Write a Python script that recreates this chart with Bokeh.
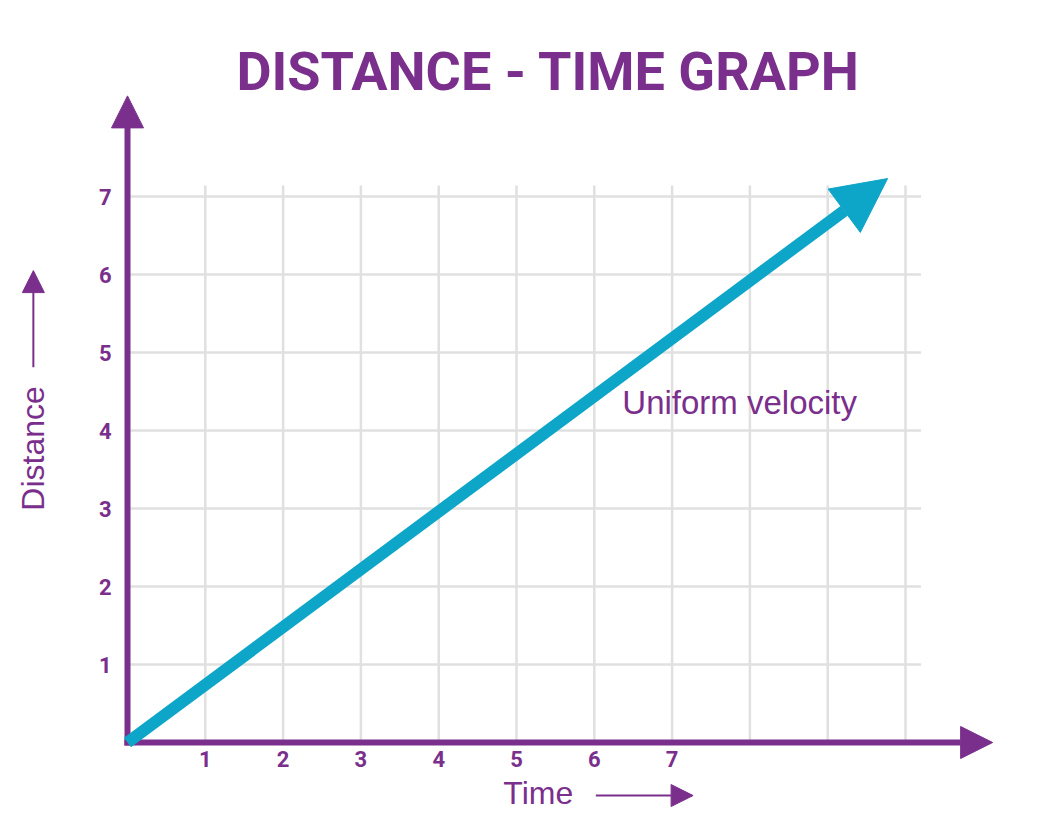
from bokeh.plotting import figure
from bokeh.models import ColumnDataSource, FixedTicker, Arrow, NormalHead, Range1d
from bokeh.core.properties import value
from bokeh.embed import file_html
from bokeh.resources import INLINE

# ---- data ----
time_ticks = [1, 2, 3, 4, 5, 6, 7]
distance_ticks = [1, 2, 3, 4, 5, 6, 7]
grid_x = [1, 2, 3, 4, 5, 6, 7, 8, 9, 10]
grid_y = [1, 2, 3, 4, 5, 6, 7]
grid_x_top = 7.14
grid_y_right = 10.2
line_time = [0.0, 9.77]
line_distance = [0.0, 7.23]
title_text = "DISTANCE - TIME GRAPH"
annotation_text = "Uniform velocity"
x_name = "Time"
y_name = "Distance"

PURPLE = "#7b2f8c"
BLUE = "#0ea6c8"
GRID = "#e0e0e0"

W, H = 1046, 812
SX, SY = 77.8, 78.0
OX, OY = 127, 742  # origin in figure pixels

x_start = -OX / SX
x_end = x_start + W / SX
y_start = -(H - OY) / SY
y_end = OY / SY

p = figure(width=W, height=H, output_backend="svg", toolbar_location=None,
           x_range=Range1d(x_start, x_end), y_range=Range1d(y_start, y_end),
           min_border=0, outline_line_color=None)
p.background_fill_color = "white"
p.xgrid.visible = False
p.ygrid.visible = False

# axes at origin (tick labels only)
for ax, ticks in ((p.xaxis[0], time_ticks), (p.yaxis[0], distance_ticks)):
    ax.fixed_location = 0
    ax.ticker = FixedTicker(ticks=ticks)
    ax.axis_line_color = None
    ax.major_tick_line_color = None
    ax.minor_tick_line_color = None
    ax.major_label_text_font = "Roboto"
    ax.major_label_text_font_style = "bold"
    ax.major_label_text_font_size = "22px"
    ax.major_label_text_color = PURPLE
p.xaxis[0].major_label_standoff = 2
p.yaxis[0].major_label_standoff = 10

# grid lines (bounded)
p.segment(x0=grid_x, y0=[0] * len(grid_x), x1=grid_x, y1=[grid_x_top] * len(grid_x),
          line_color=GRID, line_width=2.5)
p.segment(x0=[0] * len(grid_y), y0=grid_y, x1=[grid_y_right] * len(grid_y), y1=grid_y,
          line_color=GRID, line_width=2.5)

# axis arrows
p.add_layout(Arrow(x_start=-0.04, y_start=0, x_end=11.12, y_end=0,
                   line_color=PURPLE, line_width=6,
                   end=NormalHead(size=32, fill_color=PURPLE, line_color=PURPLE)))
p.add_layout(Arrow(x_start=0, y_start=-0.04, x_end=0, y_end=8.29,
                   line_color=PURPLE, line_width=6,
                   end=NormalHead(size=32, fill_color=PURPLE, line_color=PURPLE)))

# main distance-time line
src = ColumnDataSource(dict(x0=[line_time[0]], y0=[line_distance[0]],
                            x1=[line_time[1]], y1=[line_distance[1]]))
p.add_layout(Arrow(source=src, x_start="x0", y_start="y0", x_end="x1", y_end="y1",
                   line_color=BLUE, line_width=12,
                   end=NormalHead(size=54, fill_color=BLUE, line_color=BLUE)))

# title
p.text(x=[5.41], y=[8.60], text=[title_text], text_font=value("Roboto"),
       text_font_style="bold", text_font_size="54px", text_color=PURPLE,
       text_baseline="middle", text_align="center")

# annotation text
p.text(x=[6.36], y=[4.36], text=[annotation_text], text_font=value("Liberation Sans"),
       text_font_size="33px", text_color=PURPLE, text_baseline="middle", text_align="left")

# axis names with arrows
p.text(x=[4.83], y=[-0.65], text=[x_name], text_font=value("Liberation Sans"),
       text_font_size="32px", text_color=PURPLE, text_baseline="middle", text_align="left")
p.add_layout(Arrow(x_start=6.02, y_start=-0.68, x_end=7.27, y_end=-0.68,
                   line_color=PURPLE, line_width=2,
                   end=NormalHead(size=22, fill_color=PURPLE, line_color=PURPLE)))
p.text(x=[-1.21], y=[3.77], text=[y_name], text_font=value("Liberation Sans"),
       text_font_size="32px", text_color=PURPLE, text_baseline="middle", text_align="center",
       angle=1.5708)
p.add_layout(Arrow(x_start=-1.21, y_start=4.81, x_end=-1.21, y_end=6.05,
                   line_color=PURPLE, line_width=2,
                   end=NormalHead(size=22, fill_color=PURPLE, line_color=PURPLE)))

open("out.html", "w").write(file_html(p, INLINE))
